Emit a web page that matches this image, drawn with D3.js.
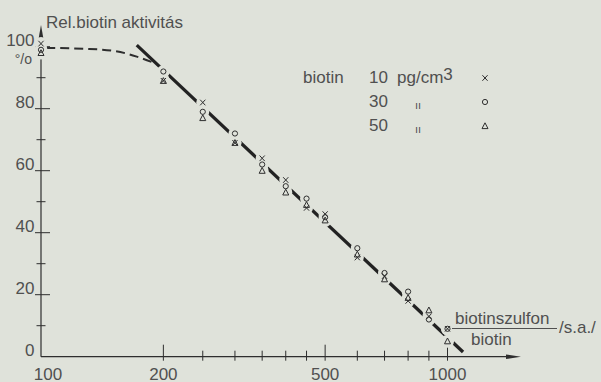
<!DOCTYPE html>
<html>
<head>
<meta charset="utf-8">
<script src="https://cdn.jsdelivr.net/npm/d3@7"></script>
<style>
  body { margin: 0; background: #dfe2da; }
  svg text { font-family: "Liberation Sans", Arial, sans-serif; fill: #505050; }
</style>
</head>
<body>
<div id="chart"></div>
<script>
var conc = [100, 200, 250, 300, 350, 400, 450, 500, 600, 700, 800, 900, 1000];
var act10 = [101, 89, 82, 69, 64, 57, 48, 46, 32, 26, 18, 13, 9];   // x
var act30 = [99, 92, 79, 72, 62, 55, 51, 45, 35, 27, 21, 12, 9];    // o
var act50 = [98, 89, 77, 69, 60, 53, 49, 44, 33, 25, 19, 15, 5];    // triangle

var fitLine = [[172, 100.5], [1092, 1.5]];
var plateau = [[103, 99.6], [130, 99.3], [152, 98.6], [172, 96.8], [193, 94.4]];

var xTicks = [200, 250, 300, 350, 400, 450, 500, 600, 700, 800, 900, 1000];
var xLabels = [100, 200, 500, 1000];
var yMajor = [20, 40, 60, 80, 100];
var yMinor = [10, 30, 50, 70, 90];
var yLabels = [0, 20, 40, 60, 80, 100];

var width = 601, height = 382;
var bg = "#dfe2da", ink = "#2e2e2e";

var x = d3.scaleLog().domain([100, 1000]).range([41, 447.5]);
var y = d3.scaleLinear().domain([0, 100]).range([356.7, 46.7]);

var svg = d3.select("#chart").append("svg")
  .attr("width", width)
  .attr("height", height);

svg.append("rect").attr("width", width).attr("height", height).attr("fill", bg);

// axes
var x0 = x(100), y0 = y(0);
svg.append("line").attr("x1", x0).attr("x2", 510).attr("y1", y0).attr("y2", y0)
  .attr("stroke", ink).attr("stroke-width", 1.2);
svg.append("path").attr("d", "M506," + (y0 - 2.3) + "L521," + y0 + "L506," + (y0 + 2.3) + "Z")
  .attr("fill", ink);
svg.append("line").attr("x1", x0).attr("x2", x0).attr("y1", y0).attr("y2", 34)
  .attr("stroke", ink).attr("stroke-width", 1.2);
svg.append("path").attr("d", "M" + (x0 - 2.3) + ",38L" + x0 + ",25L" + (x0 + 2.3) + ",38Z")
  .attr("fill", ink);

// x ticks cross the axis
svg.append("g").selectAll("line").data(xTicks).enter().append("line")
  .attr("x1", function (d) { return x(d); })
  .attr("x2", function (d) { return x(d); })
  .attr("y1", function (d) { return xLabels.indexOf(d) >= 0 ? y0 - 12 : y0 - 6; })
  .attr("y2", y0 + 4)
  .attr("stroke", ink).attr("stroke-width", 1);

svg.append("g").selectAll("text").data(xLabels).enter().append("text")
  .attr("x", function (d) { return x(d) + (d === 100 ? 7 : 0); })
  .attr("y", 379.5)
  .attr("text-anchor", "middle")
  .attr("font-size", 17)
  .text(function (d) { return d; });

// y ticks
svg.append("g").selectAll("line").data(yMajor).enter().append("line")
  .attr("x1", x0 - 6).attr("x2", x0 + 9)
  .attr("y1", function (d) { return y(d); })
  .attr("y2", function (d) { return y(d); })
  .attr("stroke", ink).attr("stroke-width", 1);
svg.append("g").selectAll("line").data(yMinor).enter().append("line")
  .attr("x1", x0 - 4.5).attr("x2", x0 + 4.5)
  .attr("y1", function (d) { return y(d); })
  .attr("y2", function (d) { return y(d); })
  .attr("stroke", ink).attr("stroke-width", 1);

svg.append("g").selectAll("text").data(yLabels).enter().append("text")
  .attr("x", 34.5)
  .attr("y", function (d) { return y(d) - 0.5; })
  .attr("text-anchor", "end")
  .attr("font-size", 17)
  .text(function (d) { return d; });
svg.append("text").attr("x", 32).attr("y", 64).attr("text-anchor", "end")
  .attr("font-size", 14).text("°/o");

svg.append("text").attr("x", 46).attr("y", 28).attr("font-size", 17)
  .text("Rel.biotin aktivitás");

// curves
var line = d3.line()
  .x(function (d) { return x(d[0]); })
  .y(function (d) { return y(d[1]); });

svg.append("path").datum(plateau)
  .attr("d", line.curve(d3.curveMonotoneX))
  .attr("fill", "none").attr("stroke", ink)
  .attr("stroke-width", 2).attr("stroke-dasharray", "9,5");

svg.append("path").datum(fitLine)
  .attr("d", d3.line().x(function (d) { return x(d[0]); }).y(function (d) { return y(d[1]); }))
  .attr("fill", "none").attr("stroke", "#222").attr("stroke-width", 3.3);

// markers
function drawMarker(g, kind) {
  if (kind === "x") {
    g.append("path").attr("d", "M-2.6,-2.8L2.6,2.8M2.6,-2.8L-2.6,2.8")
      .attr("stroke", ink).attr("stroke-width", 1).attr("fill", "none");
  } else if (kind === "o") {
    g.append("circle").attr("r", 2.6)
      .attr("stroke", ink).attr("stroke-width", 1).attr("fill", "none");
  } else {
    g.append("path").attr("d", "M0,-3.2L3,2.6L-3,2.6Z")
      .attr("stroke", ink).attr("stroke-width", 1).attr("fill", "none");
  }
}

var series = [
  { kind: "x", values: act10 },
  { kind: "o", values: act30 },
  { kind: "t", values: act50 }
];

var pts = [];
series.forEach(function (s) {
  s.values.forEach(function (v, i) { pts.push({ c: conc[i], v: v, kind: s.kind }); });
});

// clear the line around each marker
svg.append("g").selectAll("circle").data(pts).enter().append("circle")
  .attr("cx", function (d) { return x(d.c); })
  .attr("cy", function (d) { return y(d.v); })
  .attr("r", 6.5)
  .attr("fill", bg);

var mg = svg.append("g");
pts.forEach(function (d) {
  var g = mg.append("g").attr("transform", "translate(" + x(d.c) + "," + y(d.v) + ")");
  drawMarker(g, d.kind);
});

// legend
var legendRows = [
  { conc: "10", unit: "pg/cm", kind: "x" },
  { conc: "30", unit: null, kind: "o" },
  { conc: "50", unit: null, kind: "t" }
];
svg.append("text").attr("x", 303).attr("y", 83).attr("font-size", 17).text("biotin");
legendRows.forEach(function (r, i) {
  var by = 83 + i * 24;
  svg.append("text").attr("x", 369).attr("y", by).attr("font-size", 17).text(r.conc);
  if (r.unit) {
    var t = svg.append("text").attr("x", 397).attr("y", by).attr("font-size", 17);
    t.append("tspan").text(r.unit);
    t.append("tspan").attr("dy", -3).text("3");
  } else {
    svg.append("text").attr("x", 418).attr("y", by + 2).attr("font-size", 11)
      .attr("text-anchor", "middle").text("ıı");
  }
  var g = svg.append("g").attr("transform", "translate(485," + (by - 5) + ")");
  drawMarker(g, r.kind);
});

// x axis title, written as a fraction
svg.append("text").attr("x", 455).attr("y", 324).attr("font-size", 17).text("biotinszulfon");
svg.append("line").attr("x1", 452).attr("x2", 557).attr("y1", 328.5).attr("y2", 328.5)
  .attr("stroke", "#505050").attr("stroke-width", 1);
svg.append("text").attr("x", 471).attr("y", 345).attr("font-size", 17).text("biotin");
svg.append("text").attr("x", 559).attr("y", 333).attr("font-size", 17).text("/s.a./");
</script>
</body>
</html>
